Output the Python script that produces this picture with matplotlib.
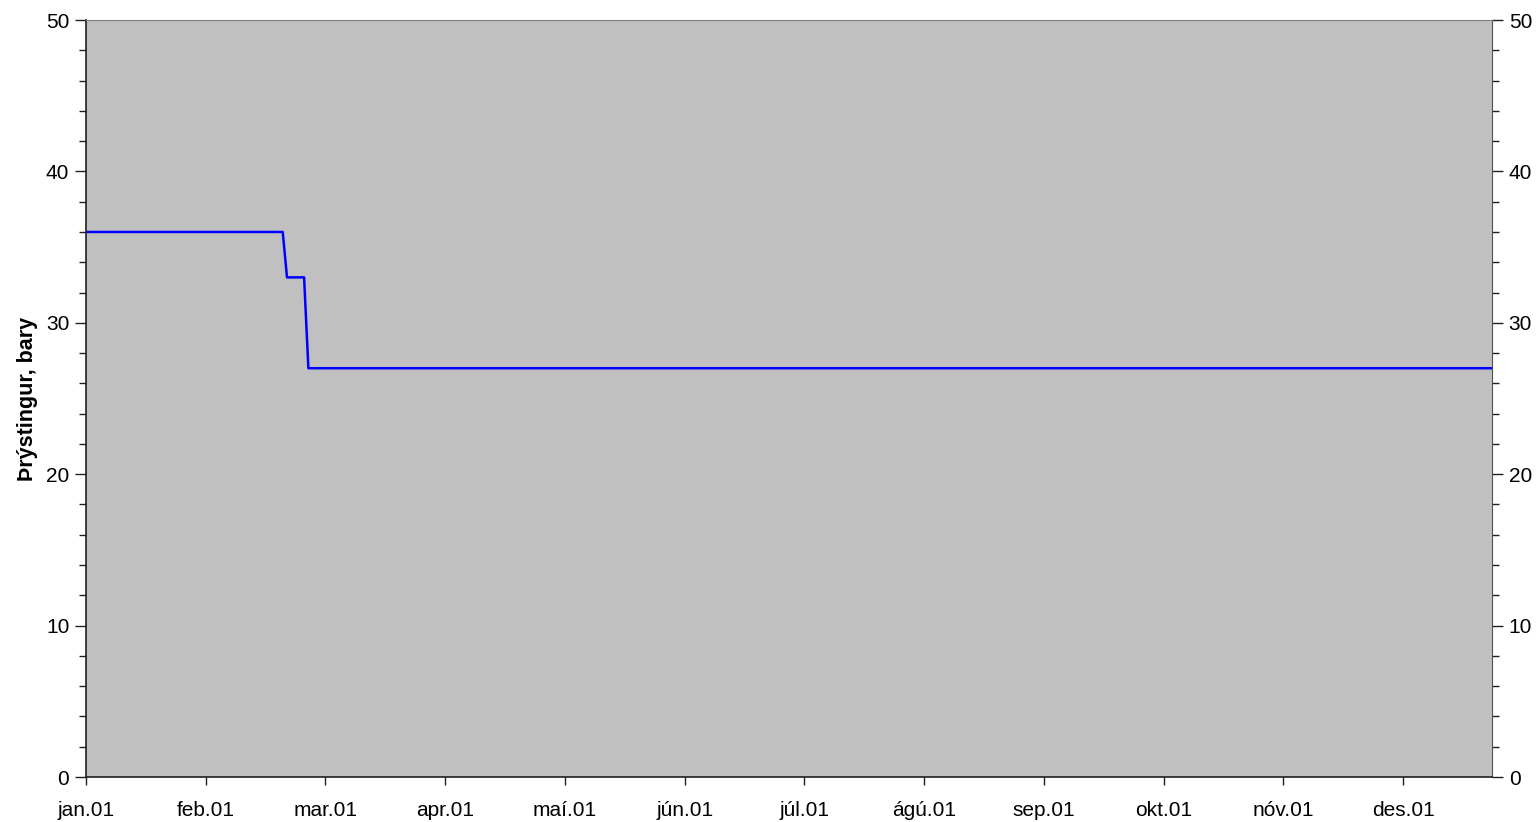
import calendar
import datetime as dt

import numpy as np
import matplotlib.pyplot as plt
from matplotlib.ticker import MultipleLocator

plt.rcParams['font.family'] = ['Liberation Sans', 'DejaVu Sans']

# pressure readings, step changes only (year 2001)
dates = ['2001-01-01', '2001-02-19', '2001-02-20', '2001-02-24', '2001-02-25', '2001-12-24']
pressure = [36, 36, 33, 33, 27, 27]
month_labels = ['jan.01', 'feb.01', 'mar.01', 'apr.01', 'maí.01', 'jún.01',
                'júl.01', 'ágú.01', 'sep.01', 'okt.01', 'nóv.01', 'des.01']


def month_pos(s):
  # months are equally wide on this axis, days spread within each month
  d = dt.date.fromisoformat(s)
  ndays = calendar.monthrange(d.year, d.month)[1]
  return (d.month - 1) + (d.day - 1) / ndays


x = np.array([month_pos(s) for s in dates])
y = np.array(pressure, dtype=float)

fig = plt.figure(figsize=(15.39, 8.22), dpi=100)
ax = fig.add_axes([86 / 1539, 1 - 777 / 822, (1492 - 86) / 1539, (777 - 20) / 822])
ax.set_facecolor('#c0c0c0')

ax.plot(x, y, color='#0000ff', lw=1.8)

ax.set_xlim(0, x[-1])
ax.set_ylim(0, 50)
ax.set_xticks(np.arange(12))
ax.set_xticklabels(month_labels)
ax.yaxis.set_major_locator(MultipleLocator(10))
ax.yaxis.set_minor_locator(MultipleLocator(2))

ax.tick_params(axis='y', which='both', left=True, right=True, labelleft=True,
               labelright=True, direction='out', color='#202020', labelsize=15)
ax.tick_params(axis='y', which='major', length=8, width=1.0, pad=4)
ax.tick_params(axis='y', which='minor', length=5, width=1.0)
ax.tick_params(axis='x', which='major', length=6, width=1.0, direction='out',
               labelsize=15, pad=11, color='#202020')

for side in ['left', 'bottom']:
  ax.spines[side].set_color('#202020')
  ax.spines[side].set_linewidth(1.2)
ax.spines['top'].set_color('#808080')
ax.spines['right'].set_color('#505050')

ax.set_ylabel('Þrýstingur, bary', fontsize=15.5, fontweight='bold', labelpad=6)

fig.savefig('out.png', dpi=100)
